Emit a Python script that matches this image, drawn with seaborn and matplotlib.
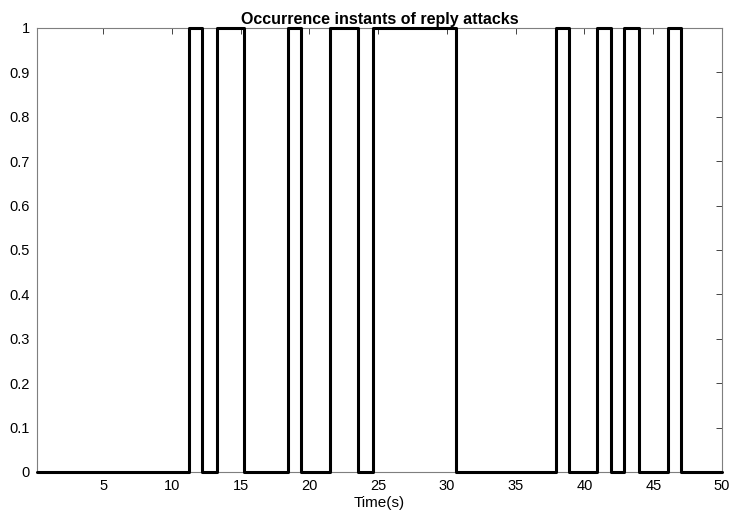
import matplotlib
matplotlib.use("Agg")
import matplotlib.pyplot as plt
import seaborn as sns
import pandas as pd

# Switching instants (s) and the attack flag held from each instant on
switch_times = [0.2, 11.25, 12.2, 13.3, 15.25, 18.45, 19.4, 21.5, 23.5, 24.6,
                30.65, 37.9, 38.85, 40.9, 41.9, 42.9, 43.95, 46.1, 47.05, 50.0]
attack_flag = [0, 1, 0, 1, 0, 1, 0, 1, 0, 1,
               0, 1, 0, 1, 0, 1, 0, 1, 0, 0]
x_ticks = [5, 10, 15, 20, 25, 30, 35, 40, 45, 50]
y_ticks = [0, 0.1, 0.2, 0.3, 0.4, 0.5, 0.6, 0.7, 0.8, 0.9, 1]
y_tick_labels = ["0", "0.1", "0.2", "0.3", "0.4", "0.5", "0.6", "0.7", "0.8", "0.9", "1"]

sns.set_style("white")
plt.rcParams["font.family"] = ["Liberation Sans", "DejaVu Sans"]
plt.rcParams["text.color"] = "black"
plt.rcParams["axes.labelcolor"] = "black"

df = pd.DataFrame({"t": switch_times, "flag": attack_flag})

fig = plt.figure(figsize=(7.34, 5.22), dpi=100)
ax = fig.add_axes([0.0504, 0.0958, 0.9333, 0.8506])

sns.lineplot(data=df, x="t", y="flag", ax=ax, estimator=None, sort=False,
             drawstyle="steps-post", color="black", linewidth=2.2,
             clip_on=False, zorder=3)

ax.set_xlim(0.2, 50)
ax.set_ylim(0, 1)
ax.set_xticks(x_ticks)
ax.set_yticks(y_ticks)
ax.set_yticklabels(y_tick_labels)
ax.tick_params(direction="in", length=4, width=0.6, colors="#262626",
               labelsize=10.5, top=True, right=True, labelcolor="black", pad=5)
for s in ax.spines.values():
    s.set_color("#7f7f7f")
    s.set_linewidth(0.8)

ax.set_xlabel("Time(s)", fontsize=11, labelpad=2, color="black")
ax.set_ylabel("")
ax.set_title("Occurrence instants of reply attacks", fontsize=11.5,
             fontweight="bold", pad=3, color="black")

fig.savefig("out.png", dpi=100)
